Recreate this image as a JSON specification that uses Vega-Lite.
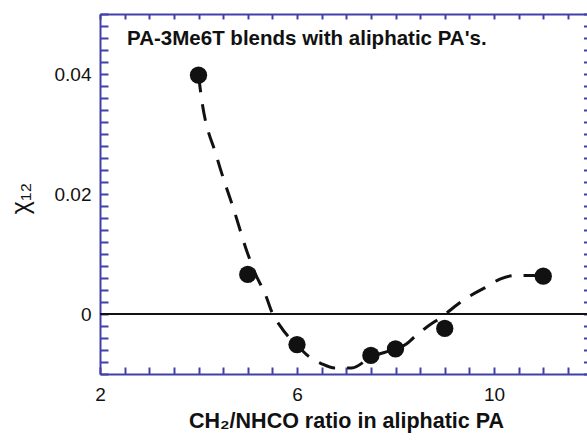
{
  "$schema": "https://vega.github.io/schema/vega-lite/v6.json",
  "width": 487,
  "height": 360,
  "autosize": {"type": "none"},
  "padding": {"left": 100, "top": 14, "right": 0, "bottom": 66},
  "background": "white",
  "config": {
    "view": {"stroke": null},
    "axis": {
      "grid": false,
      "domainColor": "#4040a8",
      "domainWidth": 2,
      "tickColor": "#4040a8",
      "tickWidth": 2,
      "labelFont": "Liberation Sans",
      "labelFontSize": 19,
      "labelColor": "#111111",
      "titleFont": "Liberation Sans",
      "titleColor": "#111111"
    }
  },
  "datasets": {
    "points": [
      {"ratio": 4, "chi": 0.0398},
      {"ratio": 5, "chi": 0.0066},
      {"ratio": 6, "chi": -0.0051},
      {"ratio": 7.5, "chi": -0.0069},
      {"ratio": 8, "chi": -0.0058},
      {"ratio": 9, "chi": -0.0024},
      {"ratio": 11, "chi": 0.0063}
    ],
    "curve": [
      {"ratio": 4.0, "chi": 0.0398},
      {"ratio": 4.06, "chi": 0.036},
      {"ratio": 4.37, "chi": 0.0262},
      {"ratio": 4.74, "chi": 0.0168},
      {"ratio": 4.98, "chi": 0.0105},
      {"ratio": 5.15, "chi": 0.0068},
      {"ratio": 5.37, "chi": 0.003},
      {"ratio": 5.49, "chi": 0.0003},
      {"ratio": 5.65, "chi": -0.0019},
      {"ratio": 5.86, "chi": -0.0041},
      {"ratio": 6.0, "chi": -0.0052},
      {"ratio": 6.2, "chi": -0.0068},
      {"ratio": 6.5, "chi": -0.0083},
      {"ratio": 6.77, "chi": -0.009},
      {"ratio": 7.11, "chi": -0.009},
      {"ratio": 7.5, "chi": -0.0072},
      {"ratio": 8.0, "chi": -0.0058},
      {"ratio": 8.22, "chi": -0.005},
      {"ratio": 8.36, "chi": -0.004},
      {"ratio": 8.63, "chi": -0.0022},
      {"ratio": 8.97, "chi": -0.0003},
      {"ratio": 9.21, "chi": 0.0013},
      {"ratio": 9.51, "chi": 0.003},
      {"ratio": 9.82, "chi": 0.0044},
      {"ratio": 10.12, "chi": 0.0058},
      {"ratio": 10.43, "chi": 0.0064},
      {"ratio": 10.8, "chi": 0.0064},
      {"ratio": 11.0, "chi": 0.0063}
    ]
  },
  "resolve": {"axis": {"x": "independent", "y": "independent"}},
  "layer": [
    {
      "data": {"name": "curve"},
      "mark": {"type": "line", "interpolate": "monotone", "color": "#111111", "strokeWidth": 3, "strokeDash": [17, 12]},
      "encoding": {
        "x": {
          "field": "ratio", "type": "quantitative",
          "scale": {"domain": [2, 12], "range": [0, 492.5], "nice": false, "zero": false},
          "axis": {
            "orient": "bottom",
            "values": [2, 2.5, 3, 3.5, 4, 4.5, 5, 5.5, 6, 6.5, 7, 7.5, 8, 8.5, 9, 9.5, 10, 10.5, 11, 11.5, 12],
            "format": "~g",
            "labelExpr": "(datum.value == 2 || datum.value == 6 || datum.value == 10) ? datum.label : ''",
            "ticks": true,
            "tickSize": -7,
            "labelPadding": 18,
            "labelFlush": false,
            "title": "CH₂/NHCO ratio in aliphatic PA",
            "titleFontSize": 21.5,
            "titleFontWeight": "bold",
            "titleX": 246,
            "titleY": 53,
            "titleAlign": "center",
            "titleBaseline": "alphabetic",
            "encode": {"ticks": {"update": {"y2": {"signal": "datum.value % 2 == 0 ? -12 : -7"}}}}
          }
        },
        "y": {
          "field": "chi", "type": "quantitative",
          "scale": {"domain": [-0.01, 0.05], "nice": false, "zero": false},
          "axis": {
            "orient": "left",
            "values": [-0.01, -0.008, -0.006, -0.004, -0.002, 0, 0.002, 0.004, 0.006, 0.008, 0.01, 0.012, 0.014, 0.016, 0.018, 0.02, 0.022, 0.024, 0.026, 0.028, 0.03, 0.032, 0.034, 0.036, 0.038, 0.04, 0.042, 0.044, 0.046, 0.048, 0.05],
            "format": "~g",
            "labelExpr": "(datum.value == 0 || abs(datum.value - 0.02) < 1e-9 || abs(datum.value - 0.04) < 1e-9) ? datum.label : ''",
            "ticks": true,
            "tickSize": -8,
            "labelPadding": 17,
            "labelFlush": false,
            "title": "χ₁₂",
            "titleFontSize": 25,
            "titleFontWeight": "normal",
            "titleAngle": -90,
            "titleX": -80,
            "titleY": 184,
            "titleAlign": "center",
            "titleBaseline": "middle",
            "encode": {"ticks": {"update": {"x2": {"signal": "round(datum.value * 1000) % 10 == 0 ? 13 : 8"}}}}
          }
        }
      }
    },
    {
      "data": {"name": "points"},
      "mark": {"type": "circle", "color": "#111111", "opacity": 1, "size": 300},
      "encoding": {
        "x": {
          "field": "ratio", "type": "quantitative",
          "scale": {"domain": [2, 12], "range": [0, 492.5], "nice": false, "zero": false},
          "axis": {
            "orient": "top",
            "values": [2, 2.5, 3, 3.5, 4, 4.5, 5, 5.5, 6, 6.5, 7, 7.5, 8, 8.5, 9, 9.5, 10, 10.5, 11, 11.5, 12],
            "labels": false,
            "ticks": true,
            "tickSize": -5,
            "title": null,
            "encode": {"ticks": {"update": {"y2": {"signal": "datum.value % 2 == 0 ? 12 : 5"}}}}
          }
        },
        "y": {
          "field": "chi", "type": "quantitative",
          "scale": {"domain": [-0.01, 0.05], "nice": false, "zero": false},
          "axis": {
            "orient": "right",
            "offset": 5.5,
            "values": [-0.01, -0.008, -0.006, -0.004, -0.002, 0, 0.002, 0.004, 0.006, 0.008, 0.01, 0.012, 0.014, 0.016, 0.018, 0.02, 0.022, 0.024, 0.026, 0.028, 0.03, 0.032, 0.034, 0.036, 0.038, 0.04, 0.042, 0.044, 0.046, 0.048, 0.05],
            "labels": false,
            "ticks": true,
            "tickSize": -9,
            "title": null,
            "encode": {"ticks": {"update": {"x2": {"signal": "round(datum.value * 1000) % 10 == 0 ? -13 : -9"}}}}
          }
        }
      }
    },
    {
      "data": {"values": [{}]},
      "mark": {"type": "rule", "color": "#111111", "strokeWidth": 1.8},
      "encoding": {
        "y": {"datum": 0, "type": "quantitative", "scale": {"domain": [-0.01, 0.05], "nice": false, "zero": false}, "axis": null}
      }
    },
    {
      "data": {"values": [{"label": "PA-3Me6T blends with aliphatic PA's."}]},
      "mark": {"type": "text", "align": "left", "baseline": "middle", "font": "Liberation Sans", "fontWeight": "bold", "fontSize": 20.5, "color": "#111111"},
      "encoding": {
        "x": {"datum": 2.55, "type": "quantitative", "scale": {"domain": [2, 12], "range": [0, 492.5], "nice": false, "zero": false}, "axis": null},
        "y": {"datum": 0.0458, "type": "quantitative", "scale": {"domain": [-0.01, 0.05], "nice": false, "zero": false}, "axis": null},
        "text": {"field": "label"}
      }
    }
  ]
}
